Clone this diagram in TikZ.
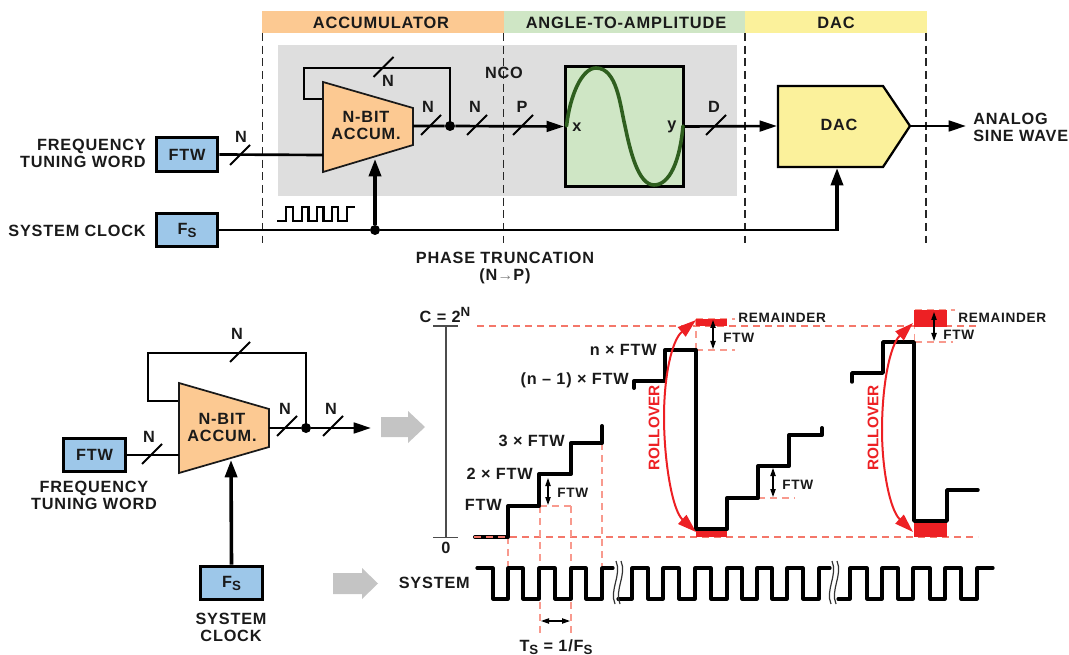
\documentclass[tikz,border=0pt]{standalone}
\usepackage{fontspec}
\setmainfont[LetterSpace=5]{Liberation Sans}
\usetikzlibrary{arrows.meta}
\definecolor{txt}{HTML}{1A1A1A}
\definecolor{orangefill}{HTML}{FCC992}
\definecolor{greenfill}{HTML}{CFE6C5}
\definecolor{yellowfill}{HTML}{FBF19B}
\definecolor{grayfill}{HTML}{DEDEDE}
\definecolor{bluefill}{HTML}{9DC7E9}
\definecolor{redfill}{HTML}{ED2024}
\definecolor{salmon}{HTML}{F4776A}
\definecolor{salmonlight}{HTML}{F89A8E}
\definecolor{arrowgray}{HTML}{C4C4C4}
\definecolor{sinegreen}{HTML}{2F5F1F}
\newcommand{\subS}{\raisebox{-0.35ex}{\fontsize{10}{10}\selectfont S}}
\newcommand{\busmark}[2]{\draw[slashline] (#1-10,#2+10) -- (#1+10,#2-10);}
\tikzset{
  lbl/.style={font=\fontsize{12.2}{12.75}\selectfont\bfseries,text=txt,inner sep=0pt,align=center},
  lblr/.style={lbl,align=right,anchor=east},
  lbll/.style={lbl,align=left,anchor=west},
  small/.style={lbll,font=\fontsize{10.2}{12}\selectfont\bfseries},
  head/.style={font=\fontsize{12.3}{13}\selectfont\bfseries,text=txt,inner sep=0pt,minimum height=16.5pt},
  wire/.style={line width=2pt,draw=black},
  slashline/.style={line width=1.4pt,draw=black},
  thickwire/.style={line width=2.7pt,draw=black},
  sig/.style={wire,-{Triangle[length=13pt,width=8pt]}},
  clk/.style={thickwire,-{Triangle[length=13pt,width=9pt]}},
  dot/.style={circle,fill=black,inner sep=0pt,minimum size=7.5pt},
  bluebox/.style={draw=black,line width=2.4pt,fill=bluefill,minimum width=46pt,minimum height=25pt,inner sep=0pt,font=\fontsize{12.2}{13}\selectfont\bfseries,text=txt},
  zone/.style={line width=0.8pt,draw=black!85,dash pattern=on 6pt off 3.5pt},
  accum/.style={draw=black!90,line width=1.3pt,fill=orangefill},
  reddash/.style={line width=0.9pt,draw=salmon,dash pattern=on 5.5pt off 3.5pt},
  lightdash/.style={line width=1pt,draw=salmonlight,dash pattern=on 5.5pt off 3.5pt},
  stairs/.style={line width=3pt,draw=black,line join=round,line cap=round},
  wave/.style={line width=2.4pt,draw=black,line join=round,line cap=round},
  rolltip/.style={line width=1.5pt,draw=redfill,-{Triangle[length=14pt,width=9pt]}},
  rolltxt/.style={font=\fontsize{11.5}{13}\addfontfeature{LetterSpace=0}\bfseries,text=redfill,inner sep=0pt,rotate=90},
  mini/.style={line width=0.9pt,draw=black,{Triangle[length=6pt,width=4pt]}-{Triangle[length=6pt,width=4pt]}},
  bigarrow/.style={fill=arrowgray,draw=none},
}
\begin{document}
\begin{tikzpicture}[x=0.75pt,y=-0.75pt]
\useasboundingbox (0,0) rectangle (1069,655);
% bands
\fill[orangefill] (262,11) rectangle (503.5,33);
\fill[greenfill] (503.5,11) rectangle (745,33);
\fill[yellowfill] (745,11) rectangle (927,33);
\node[head] (h1) at (381,23) {ACCUMULATOR};
\node[head] (h2) at (626,23) {ANGLE-TO-AMPLITUDE};
\node[head] (h3) at (836,23) {DAC};
% gray area
\fill[grayfill] (278,45) rectangle (737,196);
% zone lines
\foreach \x in {262.5,503.5,745,926} \draw[zone] (\x,33) -- (\x,243);
% top accumulator
\coordinate (a1nw) at (323,82);
\coordinate (a1ne) at (413,108);
\coordinate (a1se) at (413,145);
\coordinate (a1sw) at (323,172);
\coordinate (a1fb) at (323,99);
\coordinate (a1in) at (323,155);
\coordinate (a1out) at (413,126);
\coordinate (a1clk) at (375,159);
\draw[wire] (a1fb) -- (304,99) -- (304,68) -- (450,68) -- (450,126);
\draw[accum] (a1nw) -- (a1ne) -- (a1se) -- (a1sw) -- cycle;
\node[lbl] (a1t) at (366,125) {N-BIT\\ACCUM.};
% sine box
\node[draw=black,line width=2.4pt,fill=greenfill,minimum width=88.5pt,minimum height=90pt,inner sep=0pt] (sine) at (624.5,126.5) {};
\draw[line width=2.7pt,draw=sinegreen,line cap=round] (566.5,126) .. controls (570,95) and (582,68) .. (596,68) .. controls (617,68) and (620,105) .. (625,126) .. controls (630,150) and (638,185) .. (654,185) .. controls (670,185) and (680,160) .. (683,126);
\node[lbl] (sx) at (577,127) {x};
\node[lbl] (sy) at (672,127) {y};
\node[lbl] (nco) at (504,73) {NCO};
% DAC
\coordinate (d1) at (778,86);
\coordinate (d2) at (883,86);
\coordinate (d3) at (910,126);
\coordinate (d4) at (883,167);
\coordinate (d5) at (778,167);
\coordinate (dclk) at (837,168);
\draw[draw=black,line width=1.7pt,fill=yellowfill] (d1) -- (d2) -- (d3) -- (d4) -- (d5) -- cycle;
\node[lbl] (dt) at (839,125) {DAC};
\node[lbl,anchor=west,align=left] (analog) at (973,127) {ANALOG\\SINE WAVE};
% signal chain
\node[dot] (j1) at (450,126) {};
\draw[sig] (a1out) -- (j1) -- (sine.west);
\coordinate (dacin) at (777,126);
\draw[sig] (sine.east) -- (dacin);
\coordinate (anaend) at (966,126);
\draw[sig] (d3) -- (anaend);
\busmark{431}{125}\busmark{477}{125}\busmark{523}{125}\busmark{383.5}{67}\busmark{716}{125}
\node[lbl] (n1) at (428,107) {N};
\node[lbl] (n2) at (475,107) {N};
\node[lbl] (n3) at (522,107) {P};
\node[lbl] (n4) at (388,81) {N};
\node[lbl] (n5) at (714,107) {D};
% inputs
\node[bluebox] (ftw1) at (187,154.5) {FTW};
\node[bluebox] (fs1) at (187,230) {F\subS};
\node[lblr] (l1) at (146,153.5) {FREQUENCY\\TUNING WORD};
\node[lblr] (l2) at (146,231) {SYSTEM CLOCK};
\draw[wire] (ftw1.east) -- (a1in);
\busmark{240}{155}
\node[lbl] (n6) at (241,137) {N};
\node[dot] (j2) at (375,230) {};
\draw[wire] (fs1.east) -- (j2) -- (837,230);
\draw[clk] (j2) -- (a1clk);
\draw[clk] (837,231) -- (dclk);
% clock pulses
\draw[line width=1.6pt,line join=miter] (277,221) -- (286,221) -- (286,207) -- (293,207) -- (293,221) -- (302,221) -- (302,207) -- (308.5,207) -- (308.5,221) -- (317,221) -- (317,207) -- (323.5,207) -- (323.5,221) -- (332,221) -- (332,207) -- (338,207) -- (338,221) -- (347,221) -- (347,207) -- (355,207);
\node[lbl] (pt) at (505,268.5) {PHASE TRUNCATION\\(N{\textcolor{black!50}{\fontsize{12}{12}\selectfont\mdseries\addfontfeature{LetterSpace=0}→}}P)};
% lower left
\coordinate (b1nw) at (179,383);
\coordinate (b1ne) at (269,409);
\coordinate (b1se) at (269,447);
\coordinate (b1sw) at (179,473);
\coordinate (b1fb) at (179,401);
\coordinate (b1in) at (179,455);
\coordinate (b1out) at (269,428);
\coordinate (b1clk) at (231,460);
\coordinate (b1end) at (371,428);
\draw[wire] (b1fb) -- (148,401) -- (148,353) -- (306,353) -- (306,428);
\draw[accum] (b1nw) -- (b1ne) -- (b1se) -- (b1sw) -- cycle;
\node[lbl] (b1t) at (222,427) {N-BIT\\ACCUM.};
\node[dot] (j3) at (306,428) {};
\draw[sig] (b1out) -- (j3) -- (b1end);
\busmark{287}{426}\busmark{333}{426}\busmark{240}{352}
\node[lbl] (n7) at (285,409) {N};
\node[lbl] (n8) at (331,409) {N};
\node[lbl] (n9) at (237,334) {N};
\node[bluebox] (ftw2) at (94.5,455) {FTW};
\node[bluebox] (fs2) at (231.5,583) {F\subS};
\draw[wire] (ftw2.east) -- (b1in);
\busmark{152}{454}
\node[lbl] (n10) at (149,437) {N};
\draw[clk] (fs2.north) -- (b1clk);
\node[lbl] (l3) at (94,495.5) {FREQUENCY\\TUNING WORD};
\node[lbl] (l4) at (231,627.5) {SYSTEM\\CLOCK};
% gray arrows
\fill[bigarrow] (381,417) -- (408,417) -- (408,411) -- (425,427) -- (408,443) -- (408,437) -- (381,437) -- cycle;
\fill[bigarrow] (333,573) -- (362,573) -- (362,568) -- (378,583.5) -- (362,599) -- (362,594) -- (333,594) -- cycle;
% axis
\draw[line width=0.8pt,draw=black!70] (433,326) -- (458,326);
\draw[line width=0.8pt,draw=black!70] (433,537.5) -- (458,537.5);
\draw[line width=0.8pt,draw=black!70] (446,326) -- (446,537.5);
\node[lbl] (c) at (445,315) {C = 2\raisebox{0.7ex}{\fontsize{10}{10}\selectfont N}};
\node[lbl] (z) at (446,548) {0};
% dashed guides
\draw[reddash] (477,326) -- (978,326);
\draw[reddash] (474,537) -- (978,537);
\draw[lightdash] (696,319) -- (735,319);
\draw[lightdash] (696,350) -- (735,350);
\draw[lightdash] (696,319) -- (696,350);
\draw[lightdash] (914.5,310) -- (955,310);
\draw[lightdash] (914.5,342) -- (953,342);
\draw[lightdash] (914.5,310) -- (914.5,342);
\draw[lightdash] (758,498) -- (795,498);
\draw[lightdash] (540,506) -- (571,506);
\draw[lightdash] (508,537) -- (508,566);
\draw[lightdash] (540,506) -- (540,635);
\draw[lightdash] (571,506) -- (571,635);
\draw[lightdash] (602,443) -- (602,566);
% red areas
\fill[redfill] (696,319) rectangle (727,326);
\fill[redfill] (696,530) rectangle (727,537);
\fill[redfill] (914,310) rectangle (947,327);
\fill[redfill] (914,523) rectangle (947,537);
% stairs
\draw[stairs] (475,537) -- (508,537) -- (508,506) -- (539,506) -- (539,474) -- (571,474) -- (571,443) -- (602,443) -- (602,426);
\draw[reddash] (474,537) -- (508,537);
\draw[stairs] (634,388) -- (634,381) -- (665,381) -- (665,350) -- (695.5,350) -- (695.5,529) -- (727,529) -- (727,498) -- (758,498) -- (758,466) -- (789,466) -- (789,435) -- (822,435) -- (822,428);
\draw[stairs,line width=2.6pt] (852,382) -- (852,373) -- (883,373) -- (883,342) -- (914,342) -- (914,521) -- (947,521) -- (947,490) -- (978,490);
% rollover
\draw[rolltip] (664,417) .. controls (664,375) and (672,340) .. (696,320);
\draw[rolltip] (664,417) .. controls (664,460) and (672,510) .. (696,532);
\draw[rolltip] (882,430) .. controls (882,385) and (890,345) .. (913,323);
\draw[rolltip] (882,430) .. controls (882,470) and (890,510) .. (913,532);
\node[rolltxt] (r1) at (654,428) {ROLLOVER};
\node[rolltxt] (r2) at (873,428) {ROLLOVER};
% stair labels
\node[lblr] at (502,505) {FTW};
\node[lblr] at (533,474) {2 × FTW};
\node[lblr] at (565,441) {3 × FTW};
\node[lblr] at (657,350) {n × FTW};
\node[lblr] at (629,380) {(n – 1) × FTW};
\node[small] at (557,493) {FTW};
\node[small] at (723,338) {FTW};
\node[small] at (943,335) {FTW};
\node[small] at (782,485) {FTW};
\node[small] at (738,318) {REMAINDER};
\node[small] at (958,318) {REMAINDER};
\draw[mini] (548,478) -- (548,505);
\draw[mini] (713,320) -- (713,349);
\draw[mini] (934,312) -- (934,341);
\draw[mini] (773,468) -- (773,497);
% wave
\draw[wave] (477,568) -- (493,568) -- (493,599) -- (508,599) -- (508,568) -- (523,568) -- (523,599) -- (539,599) -- (539,568) -- (555,568) -- (555,599) -- (571,599) -- (571,568) -- (586,568) -- (586,599) -- (602,599) -- (602,568) -- (613,568);
\draw[wave] (618,599) -- (632,599) -- (632,568) -- (648,568) -- (648,599) -- (663,599) -- (663,568) -- (679,568) -- (679,599) -- (695,599) -- (695,568) -- (711,568) -- (711,599) -- (727,599) -- (727,568) -- (742,568) -- (742,599) -- (757,599) -- (757,568) -- (772,568) -- (772,599) -- (787,599) -- (787,568) -- (803,568) -- (803,599) -- (819,599) -- (819,568) -- (830,568);
\draw[wave] (838,599) -- (850,599) -- (850,568) -- (867,568) -- (867,599) -- (882,599) -- (882,568) -- (898,568) -- (898,599) -- (913,599) -- (913,568) -- (930,568) -- (930,599) -- (945,599) -- (945,568) -- (961,568) -- (961,599) -- (977,599) -- (977,568) -- (993,568);
\foreach \x in {0,5,216,221} \draw[line width=0.9pt,draw=black!80] (616+\x,561) .. controls (622+\x,575) and (609+\x,590) .. (615+\x,604);
\node[lblr] at (470,583) {SYSTEM};
\draw[mini] (541,621) -- (570,621);
\node[lbl] at (556,647) {T\subS{} = 1/F\subS};
\end{tikzpicture}
\end{document}
